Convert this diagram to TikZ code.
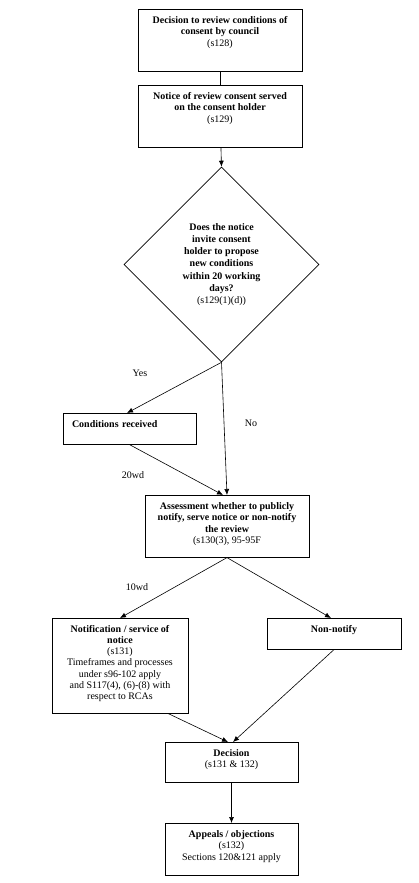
\documentclass[tikz,border=0pt]{standalone}
\usepackage{fontspec}
\setmainfont{Liberation Serif}
\usepackage{tikz}
\usetikzlibrary{shapes.geometric, positioning, arrows.meta}
\tikzstyle{flowarrow} = [line width=0.6pt,-{Latex[length=6pt,width=5pt]}]
\tikzstyle{flowline} = [line width=0.6pt]
\tikzstyle{procbox} = [draw, line width=0.6pt, anchor=north, font=\fontsize{10}{11.5}\selectfont\bfseries, inner ysep=7pt, text height=7pt]
\tikzstyle{steplabel} = [font=\fontsize{10}{11}\selectfont, inner sep=0pt]
\newcommand{\boxlines}[1]{\begin{tabular}[t]{@{}c@{}}#1\end{tabular}}

\begin{document}
\begin{tikzpicture}[x=1pt, y=-1pt]
        \useasboundingbox (0, 0) rectangle (419, 883);
        \node[procbox, minimum width=164pt, text depth=41pt] (decide) at (220, 9) {\boxlines{Decision to review conditions of\\ consent by council\\ \mdseries(s128)}};
        \node[procbox, minimum width=164pt, text depth=41pt] (notice) at (220, 85) {\boxlines{Notice of review consent served\\ on the consent holder\\ \mdseries(s129)}};
        \node[draw, diamond, line width=0.6pt, aspect=1, minimum size=195pt, inner sep=0pt, align=center, font=\fontsize{10}{12.3}\selectfont\bfseries] (invite) at (221.5, 264.5) {Does the notice\\ invite consent\\ holder to propose\\ new conditions\\ within 20 working\\ days?\\ \mdseries(s129(1)(d))};
        \node[procbox, minimum width=133pt, text depth=10pt, align=left, inner xsep=9pt, text width=115pt] (received) at (129.5, 413) {Conditions received};
        \node[procbox, minimum width=164pt, text depth=41pt] (assess) at (227, 495) {\boxlines{Assessment whether to publicly\\ notify, serve notice or non-notify\\ the review\\ \mdseries(s130(3), 95-95F}};
        \node[procbox, minimum width=136pt, text depth=74pt, font=\fontsize{10}{11.2}\selectfont\bfseries] (notify) at (120, 618) {\boxlines{Notification / service of\\ notice\\ \mdseries(s131)\\ \mdseries Timeframes and processes\\ \mdseries under s96-102 apply\\ \mdseries and S117(4), (6)-(8) with\\ \mdseries respect to RCAs}};
        \node[procbox, minimum width=134pt, text depth=10pt] (nonnotify) at (334, 618) {Non-notify};
        \node[procbox, minimum width=133pt, text depth=19pt] (decision) at (231.5, 742) {\boxlines{Decision\\ \mdseries(s131 \& 132)}};
        \node[procbox, minimum width=133pt, text depth=31pt] (appeals) at (231.5, 823) {\boxlines{Appeals / objections\\ \mdseries(s132)\\ \mdseries Sections 120\&121 apply}};
        % labels on the connectors
        \node[steplabel] (yes) at (140, 373) {Yes};
        \node[steplabel] (no) at (251, 423) {No};
        \node[steplabel] (wd20) at (133, 475) {20wd};
        \node[steplabel] (wd10) at (137, 587) {10wd};
        % connectors
        \draw[flowline] (decide) -- (notice);
        \draw[flowarrow] (notice) -- (invite.north);
        \draw[flowarrow] (invite.south) -- ([xshift=-2.5pt]received.north);
        \draw[flowarrow] (invite.south) -- (assess.north);
        \draw[flowarrow] (received.south) -- ([xshift=-4pt]assess.north);
        \draw[flowarrow] (assess.south) -- (notify.north);
        \draw[flowarrow] (assess.south) -- ([xshift=-3pt]nonnotify.north);
        \draw[flowarrow] ([xshift=-20pt]notify.south east) -- ([xshift=-3.5pt]decision.north);
        \draw[flowarrow] (nonnotify.south) -- ([xshift=1.5pt]decision.north);
        \draw[flowarrow] (decision) -- (appeals);
\end{tikzpicture}
\end{document}
